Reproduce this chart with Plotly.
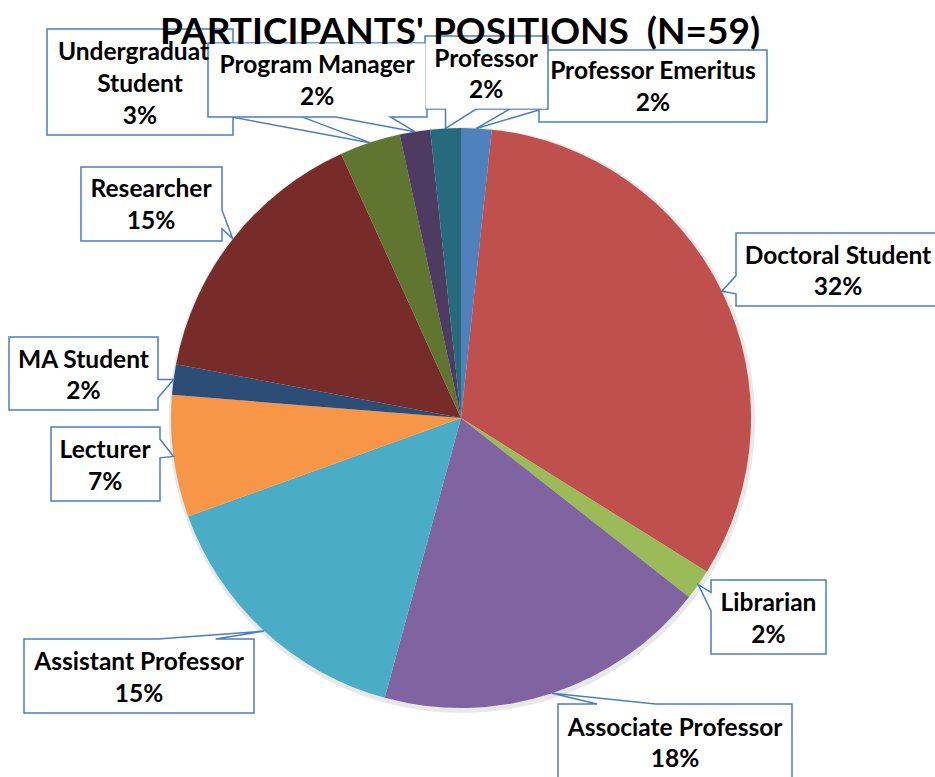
import math
import plotly.graph_objects as go

# ---- data ----
categories = ["Professor Emeritus", "Doctoral Student", "Librarian", "Associate Professor",
              "Assistant Professor", "Lecturer", "MA Student", "Researcher",
              "Undergraduate Student", "Program Manager", "Professor"]
counts = [1, 19, 1, 11, 9, 4, 1, 9, 2, 1, 1]
pct_labels = ["2%", "32%", "2%", "18%", "15%", "7%", "2%", "15%", "3%", "2%", "2%"]
label_lines = ["Professor Emeritus", "Doctoral Student", "Librarian", "Associate Professor",
               "Assistant Professor", "Lecturer", "MA Student", "Researcher",
               "Undergraduate<br>Student", "Program Manager", "Professor"]
title_text = "PARTICIPANTS' POSITIONS  (N=59)"

colors = ["#4F81BD", "#C0504D", "#9BBB59", "#8064A2", "#4BACC6", "#F79646",
          "#2C4D75", "#772C2A", "#5F7530", "#4D3B62", "#276A7C"]

# ---- layout geometry (pixels) ----
W, H = 935, 777
CX, CY, R = 461, 418, 290
# callout boxes: (left, top, right, bottom)
boxes = [(539, 50, 767, 122), (736, 233, 940, 306), (711, 580, 826, 654),
         (558, 704, 792, 779), (24, 639, 254, 713), (51, 427, 160, 501),
         (9, 337, 158, 410), (81, 167, 222, 241), (47, 29, 233, 135),
         (208, 43, 427, 117), (425, 36, 548, 109)]

FONT = "Lato"
BORDER = "#4A7CCB"


def px(x, y):
    return x / W, 1 - y / H


def callout_path(box, tip):
    l, t, r, b = box
    w, h = r - l, b - t
    cx, cy = (l + r) / 2, (t + b) / 2
    tx, ty = tip
    nx, ny = (tx - cx) / (w / 2), (ty - cy) / (h / 2)
    lo, hi = (1 / 6, 5 / 12)
    if abs(ny) >= abs(nx):
        f1, f2 = (lo, hi) if tx < cx else (1 - hi, 1 - lo)
        if ny < 0:   # top edge
            pts = [(l, t), (l + f1 * w, t), (tx, ty), (l + f2 * w, t), (r, t), (r, b), (l, b)]
        else:        # bottom edge
            pts = [(l, t), (r, t), (r, b), (l + f2 * w, b), (tx, ty), (l + f1 * w, b), (l, b)]
    else:
        f1, f2 = (lo, hi) if ty < cy else (1 - hi, 1 - lo)
        if nx > 0:   # right edge
            pts = [(l, t), (r, t), (r, t + f1 * h), (tx, ty), (r, t + f2 * h), (r, b), (l, b)]
        else:        # left edge
            pts = [(l, t), (r, t), (r, b), (l, b), (l, t + f2 * h), (tx, ty), (l, t + f1 * h)]
    s = ""
    for k, (x, y) in enumerate(pts):
        X, Y = px(x, y)
        s += ("M" if k == 0 else "L") + f"{X:.5f},{Y:.5f} "
    return s + "Z"


def overlaps(a, b):
    return a[0] < b[2] and b[0] < a[2] and a[1] < b[3] and b[1] < a[3]


dom = dict(x=[(CX - R) / W, (CX + R) / W], y=[1 - (CY + R) / H, 1 - (CY - R) / H])
SH = 3
shadow_dom = dict(x=[(CX - R - SH + 1) / W, (CX + R + SH + 1) / W],
                  y=[1 - (CY + R + SH + 2) / H, 1 - (CY - R - SH + 2) / H])

fig = go.Figure()
fig.add_trace(go.Pie(
    values=[sum(counts)], labels=["shadow"], sort=False, textinfo="none", hoverinfo="skip",
    marker=dict(colors=["rgba(0,0,0,0.09)"], line=dict(width=0)),
    domain=shadow_dom, showlegend=False,
))
fig.add_trace(go.Pie(
    labels=categories, values=counts, sort=False, direction="clockwise", rotation=0,
    marker=dict(colors=colors, line=dict(width=0)),
    textinfo="none", hoverinfo="label+value+percent",
    domain=dom, showlegend=False,
))

total = sum(counts)
cum = 0
annotations = []
shapes = []
for i, v in enumerate(counts):
    mid = (cum + v / 2) / total * 2 * math.pi
    cum += v
    tx = CX + R * math.sin(mid)
    ty = CY - R * math.cos(mid)
    l, t, r, b = boxes[i]
    shapes.append(dict(
        type="path", xref="paper", yref="paper", path=callout_path(boxes[i], (tx, ty)),
        fillcolor="white", line=dict(color=BORDER, width=1.5), layer="above",
    ))
    # a box that lies over an earlier box hides what is under it
    covers = any(overlaps(boxes[i], boxes[j]) for j in range(i))
    X, Y = px((l + r) / 2, (t + b) / 2)
    annotations.append(dict(
        x=X, y=Y, xref="paper", yref="paper", showarrow=False,
        text=f"{label_lines[i]}<br>{pct_labels[i]}",
        width=r - l - 4, height=b - t - 3, borderpad=0,
        bgcolor="white" if covers else "rgba(0,0,0,0)",
        font=dict(family=FONT, size=24.5, color="black", weight="bold"),
        align="center", valign="middle", xanchor="center", yanchor="middle",
    ))

annotations.append(dict(
    x=460 / W, y=1 - 29 / H, xref="paper", yref="paper", showarrow=False,
    text=title_text, font=dict(family=FONT, size=37, color="black", weight="bold"),
    xanchor="center", yanchor="middle",
))

fig.update_layout(
    width=W, height=H, margin=dict(l=0, r=0, t=0, b=0),
    paper_bgcolor="white", plot_bgcolor="white",
    annotations=annotations, shapes=shapes,
)

fig.write_html("out.html", config={"displayModeBar": False},
               post_script="document.body.style.margin='0';document.body.style.overflow='hidden';")
